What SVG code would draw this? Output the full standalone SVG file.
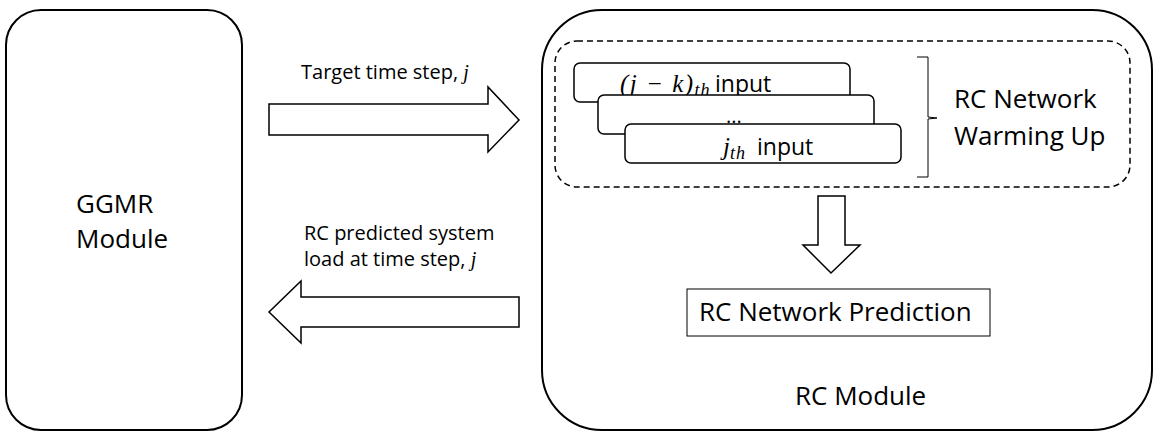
<svg xmlns="http://www.w3.org/2000/svg" width="1161" height="437" viewBox="0 0 1161 437">
<style>
.box{fill:#fff;stroke:#000;stroke-width:2}
.thin{fill:#fff;stroke:#000;stroke-width:1.5}
.t{font-family:"Open Sans","Liberation Sans",sans-serif;fill:#000}
.m{font-family:"Liberation Serif",serif;font-style:italic;fill:#000}
</style>
<rect width="1161" height="437" fill="#fff"/>
<g id="ggmr">
<rect class="box" x="6" y="10" width="236" height="420" rx="35"/>
<text class="t" x="76" y="213" font-size="26">GGMR</text>
<text class="t" x="76" y="248" font-size="26">Module</text>
</g>
<g id="rc-module">
<rect class="box" x="542" y="10" width="610" height="420" rx="60"/>
<text class="t" x="795" y="405" font-size="26">RC Module</text>
</g>
<g id="warmup">
<rect x="555" y="41" width="575" height="146" rx="22" fill="none" stroke="#000" stroke-width="1.5" stroke-dasharray="6,4"/>
<g id="input1">
<rect class="thin" x="574" y="63" width="276" height="39" rx="6"/>
<text x="620" y="92" font-size="25"><tspan class="m" letter-spacing="1.5">(j − k)</tspan><tspan class="m" font-size="18" dy="4" letter-spacing="1">th</tspan><tspan class="t" x="715" dy="-4" font-size="23">input</tspan></text>
</g>
<g id="input2">
<rect class="thin" x="598" y="95" width="276" height="39" rx="6"/>
<text class="t" x="726" y="123" font-size="20">...</text>
</g>
<g id="input3">
<rect class="thin" x="625" y="124" width="276" height="39" rx="6"/>
<text x="723" y="155" font-size="25"><tspan class="m">j</tspan><tspan class="m" font-size="18" dy="4" letter-spacing="1">th</tspan><tspan class="t" x="757" dy="-4" font-size="23">input</tspan></text>
</g>
<path d="M917,57 H928 V117 L937,118 L928,119 V177 H917" fill="none" stroke="#000" stroke-width="1"/>
<text class="t" x="954" y="108" font-size="26">RC Network</text>
<text class="t" x="954" y="145" font-size="26">Warming Up</text>
</g>
<g id="prediction">
<rect x="687" y="289" width="303" height="47" fill="#fff" stroke="#000" stroke-width="1"/>
<text class="t" x="699" y="321" font-size="26">RC Network Prediction</text>
</g>
<g id="connectors">
<path class="thin" d="M269,104 H488 V87 L519,120 L488,152 V135 H269 Z"/>
<path class="thin" d="M519,297 H301 V281 L269,312 L301,343 V327 H519 Z"/>
<path class="thin" d="M818,196 H845 V245 H860 L831,273 L803,245 H818 Z"/>
<text class="t" x="301" y="79" font-size="20">Target time step, <tspan class="m">j</tspan></text>
<text class="t" x="304" y="240" font-size="20">RC predicted system</text>
<text class="t" x="304" y="266" font-size="20">load at time step, <tspan class="m">j</tspan></text>
</g>
</svg>
